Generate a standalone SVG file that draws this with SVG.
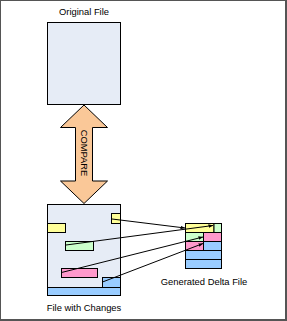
<svg xmlns="http://www.w3.org/2000/svg" width="287" height="321" viewBox="0 0 287 321">
<style>
.lbl{font-family:"Liberation Sans",Arial,sans-serif;font-size:9.4px;fill:#000}
.box{fill:#E6ECF6;stroke:#000;stroke-width:1}
.b{stroke:#000;stroke-width:1}
.y{fill:#FFFF99}.g{fill:#CCFFCC}.p{fill:#FF99CC}.bl{fill:#99CCFF}
.con{stroke:#000;stroke-width:1;fill:none;marker-end:url(#ah)}
</style>
<defs>
<marker id="ah" viewBox="0 0 10 10" refX="10" refY="5" markerWidth="4.5" markerHeight="4.5" markerUnits="userSpaceOnUse" orient="auto">
<path d="M0,1 L10,5 L0,9 z" fill="#000"/>
</marker>
</defs>
<rect x="0" y="0" width="287" height="321" fill="#555"/>
<rect x="1" y="1" width="284" height="318" fill="#fff"/>
<g id="original-file">
<text class="lbl" x="84" y="15" text-anchor="middle">Original File</text>
<rect class="box" x="47.5" y="22.5" width="73" height="82"/>
</g>
<g id="compare">
<polygon points="84,105 107.5,127.5 92.5,127.5 92.5,181 107.5,181 84,203.5 60.5,181 75.5,181 75.5,127.5 60.5,127.5" fill="#FAC898" stroke="#000" stroke-width="1"/>
<text class="lbl" x="0" y="0" text-anchor="middle" transform="translate(80.6,153) rotate(90)" font-size="9.8">COMPARE</text>
</g>
<g id="file-with-changes">
<rect class="box" x="47.5" y="204.5" width="73" height="91"/>
<rect class="b y" x="111.5" y="213.5" width="9" height="10"/>
<rect class="b y" x="47.5" y="223.5" width="18" height="9"/>
<rect class="b g" x="65.5" y="241.5" width="28" height="9"/>
<rect class="b p" x="61.5" y="268.5" width="36" height="9"/>
<rect class="b bl" x="102.5" y="277.5" width="18" height="10"/>
<rect class="b bl" x="47.5" y="287.5" width="73" height="8"/>
<text class="lbl" x="84" y="311" text-anchor="middle">File with Changes</text>
</g>
<g id="delta-file">
<rect class="b y" x="185.5" y="223.5" width="28.5" height="9"/>
<rect class="b g" x="214" y="223.5" width="7.5" height="9"/>
<rect class="b g" x="185.5" y="232.5" width="18" height="9"/>
<rect class="b p" x="203.5" y="232.5" width="18" height="9"/>
<rect class="b p" x="185.5" y="241.5" width="18" height="9"/>
<rect class="b bl" x="203.5" y="241.5" width="18" height="9"/>
<rect class="b bl" x="185.5" y="250.5" width="36" height="9"/>
<rect class="b bl" x="185.5" y="259.5" width="36" height="9"/>
<text class="lbl" x="204" y="285" text-anchor="middle" font-size="9">Generated Delta File</text>
</g>
<g id="connectors">
<line class="con" x1="112" y1="219" x2="185" y2="228"/>
<line class="con" x1="66" y1="245" x2="213" y2="225.5"/>
<line class="con" x1="61.5" y1="272.5" x2="203" y2="237"/>
<line class="con" x1="102.5" y1="282" x2="203" y2="243.5"/>
</g>
</svg>
